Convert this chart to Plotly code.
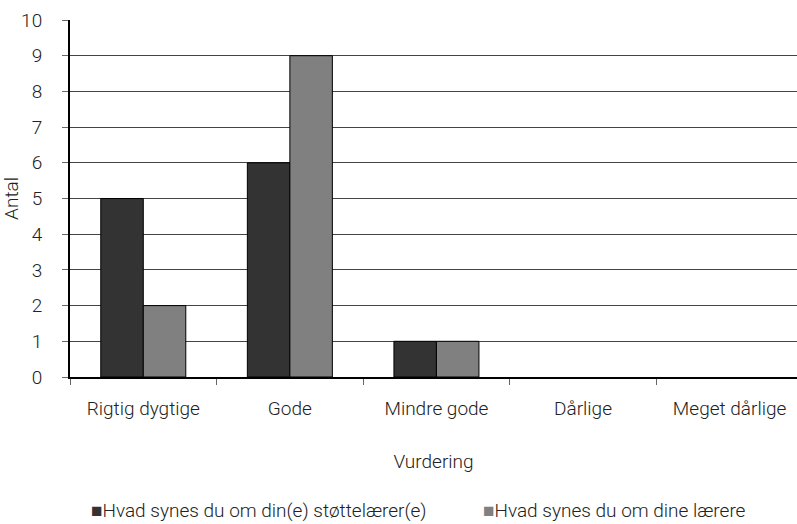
import plotly.graph_objects as go

categories = ["Rigtig dygtige", "Gode", "Mindre gode", "Dårlige", "Meget dårlige"]
stottelaerer = [5, 6, 1, 0, 0]
laerere = [2, 9, 1, 0, 0]
y_ticks = list(range(0, 11))

series_names = ["Hvad synes du om din(e) støttelærer(e)", "Hvad synes du om dine lærere"]
series_colors = ["#333333", "#808080"]

FONT = "Roboto, Noto Sans, sans-serif"
TEXT = dict(family=FONT, size=19, color="#222222", weight=300)

fig = go.Figure()
for name, values, color in zip(series_names, [stottelaerer, laerere], series_colors):
    fig.add_trace(go.Bar(
        x=categories, y=values, name=name,
        marker=dict(color=color,
                    line=dict(color="#000000", width=[1 if v > 0 else 0 for v in values])),
    ))

# legend drawn as text so the swatch sits right next to the label
legend_x = [0.0255, 0.566]
for name, color, lx in zip(series_names, series_colors, legend_x):
    fig.add_annotation(
        text=f'<span style="color:{color}">■</span>{name}',
        xref="paper", yref="paper", x=lx, y=-0.375,
        xanchor="left", yanchor="middle", showarrow=False,
        font=TEXT,
    )

fig.update_layout(
    width=797, height=524,
    paper_bgcolor="white", plot_bgcolor="white",
    font=TEXT,
    margin=dict(l=70, r=0, t=20, b=147, autoexpand=False),
    barmode="group", bargap=0.42, bargroupgap=0,
    showlegend=False,
)
fig.update_xaxes(
    type="category", range=[-0.5, 4.46],
    showline=True, linecolor="#000000", linewidth=2,
    ticks="outside", tickson="boundaries", ticklen=6, tickcolor="#666666",
    ticklabelstandoff=13, showgrid=False,
    title=dict(text="Vurdering", standoff=36, font=TEXT),
)
fig.update_yaxes(
    range=[0, 10], tickvals=y_ticks,
    showline=True, linecolor="#000000", linewidth=2,
    ticks="outside", ticklen=6, tickcolor="#666666",
    ticklabelstandoff=16,
    showgrid=True, gridcolor="#444444", gridwidth=1,
    zeroline=False,
    title=dict(text="Antal", standoff=6, font=TEXT),
)

fig.write_html("out.html", config={"displayModeBar": False},
               post_script="document.body.style.margin='0';")
